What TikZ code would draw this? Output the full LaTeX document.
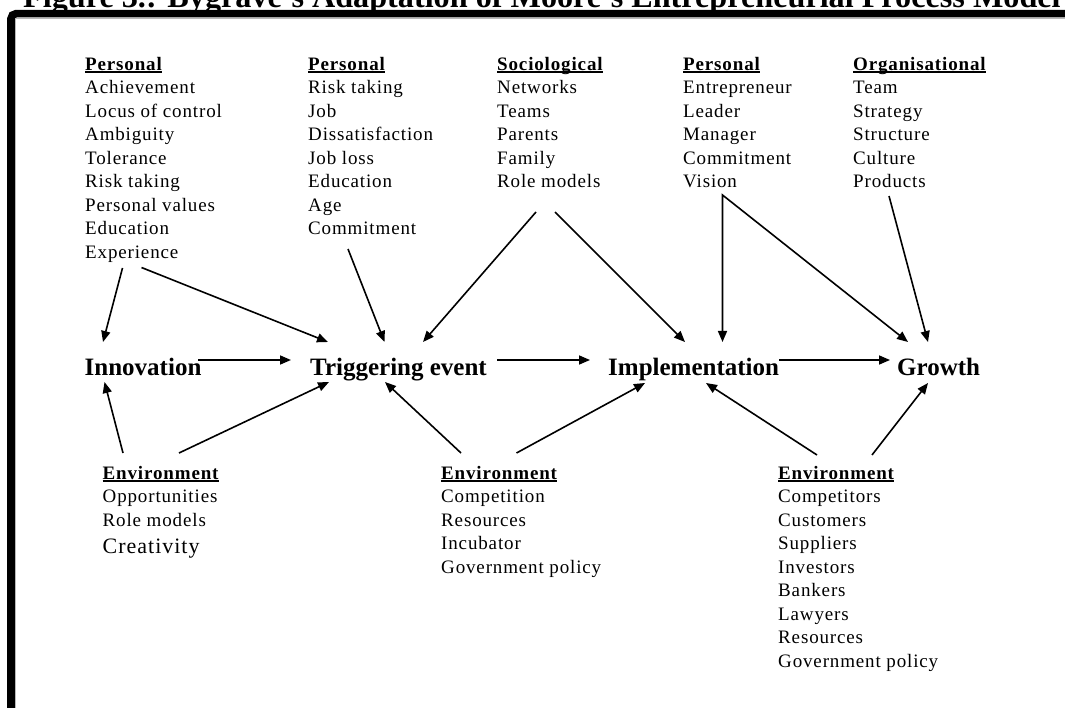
\documentclass[tikz,border=0pt]{standalone}
\usepackage{fontspec}
\setmainfont{Liberation Serif}
\newfontfamily\itemfont[LetterSpace=4.5]{Liberation Serif}
\usetikzlibrary{arrows.meta}

% underlined bold column heading; the zero-width strut fixes the first line height
\newcommand\ulhead[1]{\setbox0\hbox{\bfseries #1}\rlap{\rule[-2.4pt]{\wd0}{1.3pt}}\rule{0pt}{16pt}\box0}

\tikzset{
  blk/.style={anchor=north west, inner sep=0pt, align=left,
              font=\itemfont\fontsize{19}{23.5}\selectfont},
  stage/.style={anchor=base west, inner sep=0pt, text height=17pt, text depth=5pt,
                font=\bfseries\fontsize{25}{28}\selectfont},
  link/.style={line width=1.6pt, -{Triangle[length=11pt,width=9pt]}},
  twolink/.style={line width=1.6pt, {Triangle[length=11pt,width=9pt]}-{Triangle[length=11pt,width=9pt]}},
}

\begin{document}
\begin{tikzpicture}[x=1pt,y=-1pt]
\useasboundingbox (0,0) rectangle (1065,708);
\clip (0,0) rectangle (1065,708);
\fill[white] (0,0) rectangle (1065,708);

% caption line and frame
\node[anchor=base west, inner sep=0pt, font=\bfseries\fontsize{32.2}{36}\selectfont] (title) at (23,7.5)
  {Figure 3.: Bygrave's Adaptation of Moore's Entrepreneurial Process Model};
\draw[line width=7.6pt, rounded corners=5pt] (11,730) -- (11,13.7) -- (1090,13.7);
\draw[gray!55, line width=0.6pt] (15.6,730) -- (15.6,18.2) -- (1090,18.2);

% upper factor columns
\node[blk] (p1) at (85,54) {\ulhead{Personal}\\Achievement\\Locus of control\\Ambiguity\\Tolerance\\Risk taking\\Personal values\\Education\\Experience};
\node[blk] (p2) at (308,54) {\ulhead{Personal}\\Risk taking\\Job\\Dissatisfaction\\Job loss\\Education\\Age\\Commitment};
\node[blk] (p3) at (497,54) {\ulhead{Sociological}\\Networks\\Teams\\Parents\\Family\\Role models};
\node[blk] (p4) at (683,54) {\ulhead{Personal}\\Entrepreneur\\Leader\\Manager\\Commitment\\Vision};
\node[blk] (p5) at (853,54) {\ulhead{Organisational}\\Team\\Strategy\\Structure\\Culture\\Products};

% process stages
\node[stage] (innov) at (84.5,375) {Innovation};
\node[stage] (trig) at (310,375) {Triggering event};
\node[stage] (impl) at (608,375) {Implementation};
\node[stage] (grow) at (897,375) {Growth};

% lower environment columns
\node[blk] (e1) at (102.5,463) {\ulhead{Environment}\\Opportunities\\Role models\\[4pt]{\fontsize{22}{26}\selectfont Creativity}};
\node[blk] (e2) at (441,463) {\ulhead{Environment}\\Competition\\Resources\\Incubator\\Government policy};
\node[blk] (e3) at (778,463) {\ulhead{Environment}\\Competitors\\Customers\\Suppliers\\Investors\\Bankers\\Lawyers\\Resources\\Government policy};

% influences from above
\draw[link] ([shift={(37.5,214)}]p1.north west) -- ([shift={(18.5,-33)}]innov.base west);
\draw[link] ([shift={(56.5,213.5)}]p1.north west) -- ([shift={(18,-33)}]trig.base west);
\draw[link] ([shift={(40,195)}]p2.north west) -- ([shift={(74.5,-33)}]trig.base west);
\draw[link] ([shift={(39,158)}]p3.north west) -- ([shift={(113,-33)}]trig.base west);
\draw[link] ([shift={(58,158)}]p3.north west) -- ([shift={(77,-33)}]impl.base west);
\draw[twolink] ([shift={(114.5,-33)}]impl.base west) -- ([shift={(39.5,141)}]p4.north west) -- ([shift={(11,-33)}]grow.base west);
\draw[link] ([shift={(36,142)}]p5.north west) -- ([shift={(31,-33)}]grow.base west);

% process flow
\draw[link] ([shift={(113.5,-15)}]innov.base west) -- ([shift={(-19,-15)}]trig.base west);
\draw[link] ([shift={(187,-15)}]trig.base west) -- ([shift={(-18,-15)}]impl.base west);
\draw[link] ([shift={(171,-15)}]impl.base west) -- ([shift={(-7,-15)}]grow.base west);

% influences from below
\draw[link] ([shift={(20.5,-10)}]e1.north west) -- ([shift={(20,7)}]innov.base west);
\draw[link] ([shift={(76.5,-10)}]e1.north west) -- ([shift={(19,7)}]trig.base west);
\draw[link] ([shift={(20,-10)}]e2.north west) -- ([shift={(75,7)}]trig.base west);
\draw[link] ([shift={(75.5,-10)}]e2.north west) -- ([shift={(37,8)}]impl.base west);
\draw[link] ([shift={(39,-8)}]e3.north west) -- ([shift={(98,8)}]impl.base west);
\draw[link] ([shift={(94,-8)}]e3.north west) -- ([shift={(31,8)}]grow.base west);
\end{tikzpicture}
\end{document}
